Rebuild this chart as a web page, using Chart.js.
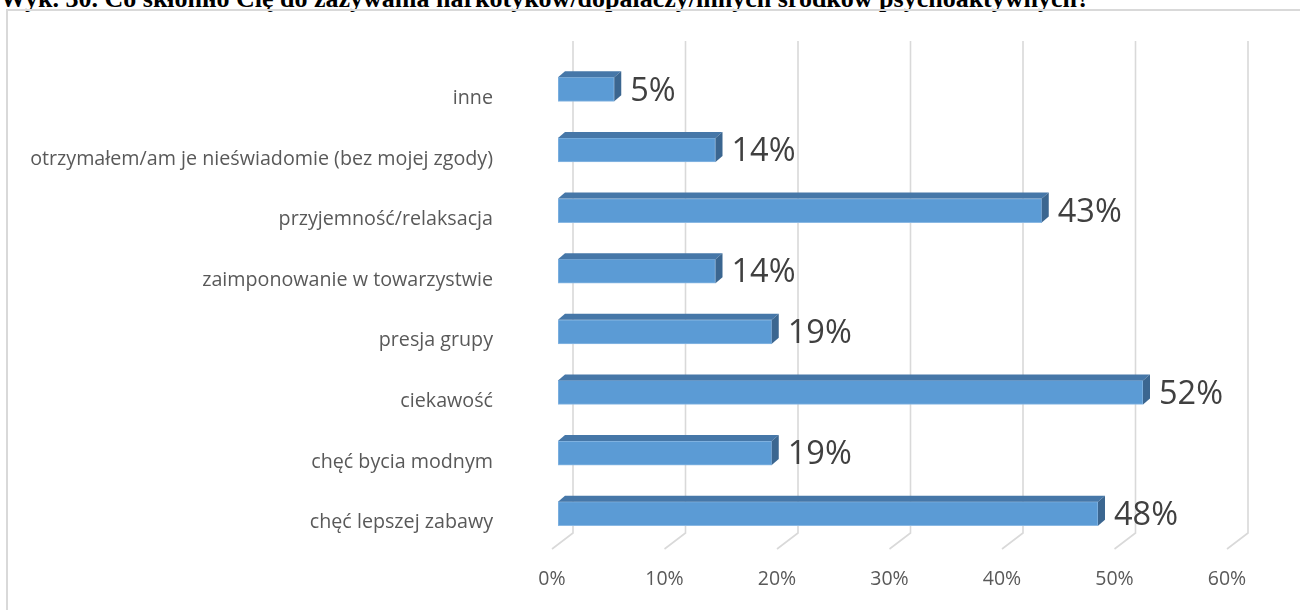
<!DOCTYPE html>
<html lang="pl">
<head>
<meta charset="UTF-8">
<title>Wyk. 30</title>
<script src="https://cdn.jsdelivr.net/npm/chart.js"></script>
<style>
    html, body {
        margin: 0;
        padding: 0;
        background: #ffffff;
        overflow: hidden;
        width: 1300px;
        height: 610px;
    }
    .title {
        position: absolute;
        left: 0;
        top: -14px;
        font-family: "Liberation Serif", "Times New Roman", serif;
        font-weight: bold;
        font-size: 26px;
        line-height: 26px;
        white-space: nowrap;
        color: #000000;
    }
    .frame {
        position: absolute;
        left: 6px;
        top: 9px;
        width: 1400px;
        height: 700px;
        border: 2px solid #d9d9d9;
    }
    #chart {
        position: absolute;
        left: 0;
        top: 0;
    }
</style>
</head>
<body>
<div class="title">Wyk. 30. Co skłoniło Cię do zażywania narkotyków/dopalaczy/innych środków psychoaktywnych?</div>
<div class="frame"></div>
<canvas id="chart" width="1300" height="610"></canvas>
<script>
    const categories = [
        'inne',
        'otrzymałem/am je nieświadomie (bez mojej zgody)',
        'przyjemność/relaksacja',
        'zaimponowanie w towarzystwie',
        'presja grupy',
        'ciekawość',
        'chęć bycia modnym',
        'chęć lepszej zabawy'
    ];
    const values = [5, 14, 43, 14, 19, 52, 19, 48];
    const axisTicks = [0, 10, 20, 30, 40, 50, 60];

    // depth of the 3D bar faces
    const BAR_DX = 7;
    const BAR_DY = 6;

    // 3D-looking vertical gridlines: back wall line plus a short floor diagonal
    const gridFloor = {
        id: 'gridFloor',
        beforeDatasetsDraw(chart) {
            const { ctx, chartArea, scales } = chart;
            ctx.save();
            ctx.strokeStyle = '#d9d9d9';
            ctx.lineWidth = 1.6;
            axisTicks.forEach(v => {
                const x = scales.x.getPixelForValue(v);
                ctx.beginPath();
                ctx.moveTo(x + 15, chartArea.top - 18);
                ctx.lineTo(x + 15, chartArea.bottom - 11);
                ctx.lineTo(x - 6, chartArea.bottom + 5);
                ctx.stroke();
            });
            ctx.restore();
        }
    };

    // top and side faces for each bar, then the value labels
    const barFaces = {
        id: 'barFaces',
        afterDatasetsDraw(chart) {
            const { ctx } = chart;
            const meta = chart.getDatasetMeta(0);
            ctx.save();
            meta.data.forEach((bar, i) => {
                const x0 = bar.base;
                const x1 = bar.x;
                const yTop = bar.y - bar.height / 2;
                const yBot = bar.y + bar.height / 2;

                ctx.fillStyle = '#4677a8';
                ctx.beginPath();
                ctx.moveTo(x0, yTop);
                ctx.lineTo(x0 + BAR_DX, yTop - BAR_DY);
                ctx.lineTo(x1 + BAR_DX, yTop - BAR_DY);
                ctx.lineTo(x1, yTop);
                ctx.closePath();
                ctx.fill();

                ctx.fillStyle = '#3b6690';
                ctx.beginPath();
                ctx.moveTo(x1, yTop);
                ctx.lineTo(x1 + BAR_DX, yTop - BAR_DY);
                ctx.lineTo(x1 + BAR_DX, yBot - BAR_DY);
                ctx.lineTo(x1, yBot);
                ctx.closePath();
                ctx.fill();

                ctx.fillStyle = '#404040';
                ctx.font = '32.5px "Open Sans"';
                ctx.textAlign = 'left';
                ctx.textBaseline = 'middle';
                ctx.fillText(values[i] + '%', x1 + BAR_DX + 9, bar.y + 2);
            });
            ctx.restore();
        }
    };

    function noPadding(scale) {
        scale.paddingTop = 0;
        scale.paddingBottom = 0;
        scale.paddingLeft = 0;
        scale.paddingRight = 0;
    }

    new Chart(document.getElementById('chart'), {
        type: 'bar',
        data: {
            labels: categories,
            datasets: [{
                data: values,
                backgroundColor: '#5b9bd5',
                borderColor: '#8ab8e3',
                borderWidth: 1,
                borderSkipped: false,
                barThickness: 24
            }]
        },
        options: {
            indexAxis: 'y',
            responsive: false,
            animation: false,
            devicePixelRatio: 1,
            layout: { padding: { top: 59, right: 67, left: 0, bottom: 0 } },
            plugins: {
                legend: { display: false },
                tooltip: { enabled: false }
            },
            scales: {
                x: {
                    min: 0,
                    max: 60,
                    afterFit(scale) { scale.height = 66; noPadding(scale); },
                    afterBuildTicks(scale) { scale.ticks = axisTicks.map(v => ({ value: v })); },
                    grid: { display: false, drawTicks: false },
                    border: { display: false },
                    ticks: {
                        padding: 24,
                        labelOffset: -6,
                        color: '#595959',
                        font: { family: 'Open Sans', size: 19.5 },
                        callback: v => v + '%'
                    }
                },
                y: {
                    afterFit(scale) { scale.width = 558; noPadding(scale); },
                    grid: { display: false, drawTicks: false },
                    border: { display: false },
                    ticks: {
                        padding: 65,
                        labelOffset: 9,
                        color: '#595959',
                        font: { family: 'Open Sans', size: 19.7 }
                    }
                }
            }
        },
        plugins: [gridFloor, barFaces]
    });
</script>
</body>
</html>
